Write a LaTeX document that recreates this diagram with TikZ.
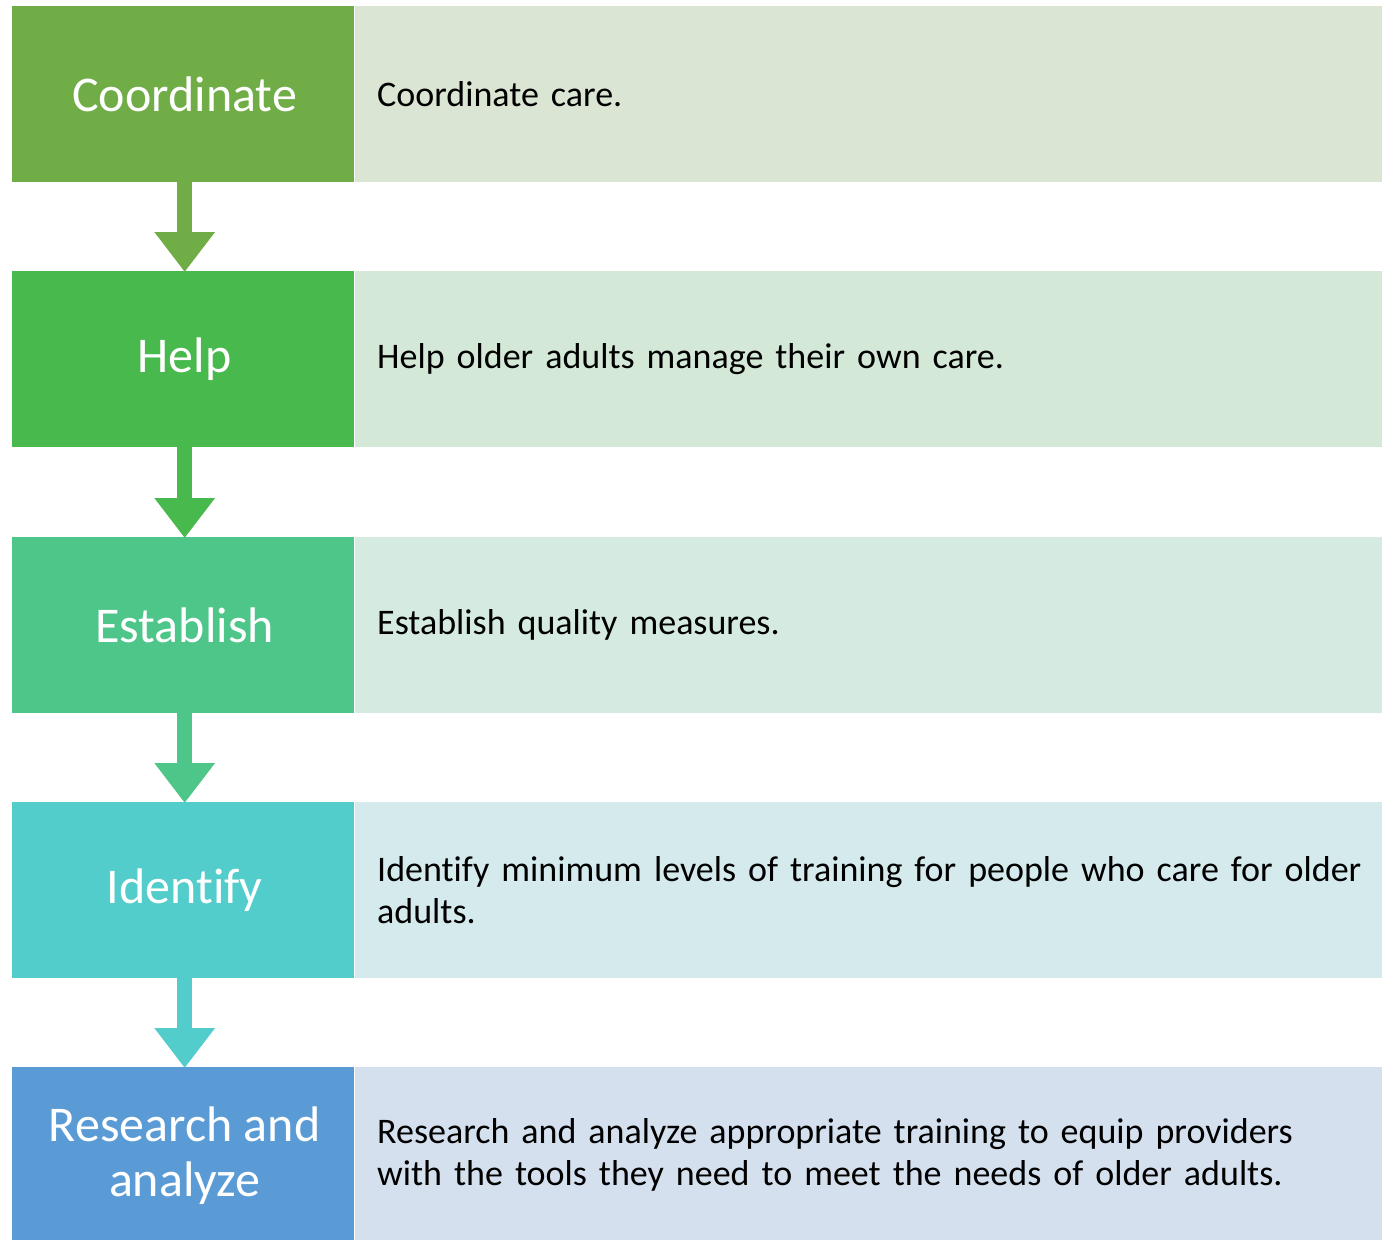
\documentclass[tikz,border=0pt]{standalone}
\usepackage{fontspec}
\setmainfont[Ligatures=NoCommon]{Carlito}
\usetikzlibrary{arrows.meta}

\definecolor{coordDark}{HTML}{70AD47}
\definecolor{coordLight}{HTML}{DAE5D3}
\definecolor{helpDark}{HTML}{48B94C}
\definecolor{helpLight}{HTML}{D4E8D7}
\definecolor{estDark}{HTML}{4EC68A}
\definecolor{estLight}{HTML}{D5EBE1}
\definecolor{identDark}{HTML}{53CCCC}
\definecolor{identLight}{HTML}{D5EAEC}
\definecolor{resDark}{HTML}{5B9BD5}
\definecolor{resLight}{HTML}{D5E0EE}

\tikzset{
  stepbox/.style={anchor=north west, minimum width=342pt, minimum height=176pt,
    inner sep=0pt, text=white, align=center,
    font=\fontsize{50}{55}\selectfont},
  descbox/.style={anchor=north west, minimum width=1027pt, minimum height=176pt,
    inner xsep=22pt, inner ysep=0pt, text width=983pt, align=left,
    font=\fontsize{36}{42}\selectfont},
  flow/.style={line width=15pt, -{Triangle[width=58pt,length=40pt]}, shorten >=-1pt}
}

\begin{document}
\begin{tikzpicture}[x=1pt,y=-1pt]
  \useasboundingbox (0,0) rectangle (1393,1240);

  % left column
  \node[stepbox, fill=coordDark] (coord) at (12,6) {\hspace*{3pt}Coordinate};
  \node[stepbox, fill=helpDark] (help) at (12,271) {\hspace*{3pt}Help};
  \node[stepbox, fill=estDark] (est) at (12,537) {\hspace*{3pt}Establish};
  \node[stepbox, fill=identDark] (ident) at (12,802) {\hspace*{3pt}Identify};
  \node[stepbox, fill=resDark] (res) at (12,1067) {\hspace*{3pt}Research and\\\hspace*{3pt}analyze};

  % right column
  \node[descbox, fill=coordLight] (coordtxt) at (355,6) {Coordinate care.};
  \node[descbox, fill=helpLight] (helptxt) at (355,271) {Help older adults manage their own care.};
  \node[descbox, fill=estLight] (esttxt) at (355,537) {Establish quality measures.};
  \node[descbox, fill=identLight] (identtxt) at (355,802) {\mbox{Identify minimum levels of training for people who care for older}\\adults.};
  \node[descbox, fill=resLight] (restxt) at (355,1067) {\mbox{Research and analyze appropriate training to equip providers}\\\mbox{with the tools they need to meet the needs of older adults.}};

  % arrows
  \draw[flow, coordDark] ([xshift=1.5pt]coord.south) -- ([xshift=1.5pt]help.north);
  \draw[flow, helpDark] ([xshift=1.5pt]help.south) -- ([xshift=1.5pt]est.north);
  \draw[flow, estDark] ([xshift=1.5pt]est.south) -- ([xshift=1.5pt]ident.north);
  \draw[flow, identDark] ([xshift=1.5pt]ident.south) -- ([xshift=1.5pt]res.north);
\end{tikzpicture}
\end{document}
